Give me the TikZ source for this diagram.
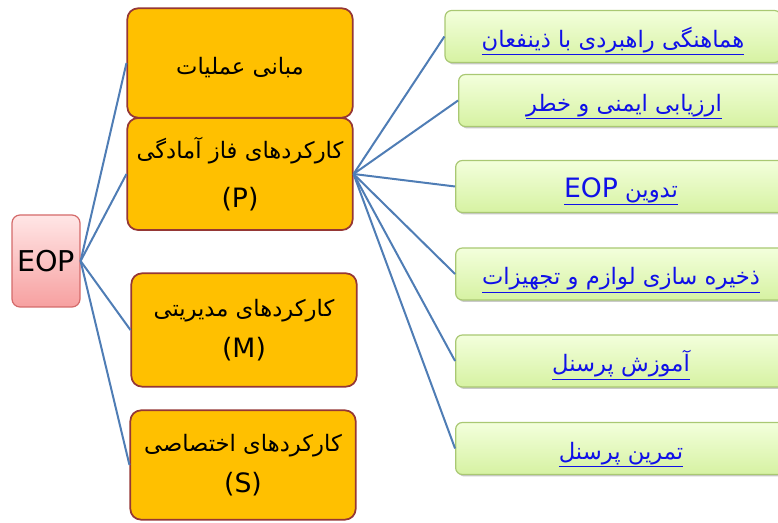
\documentclass[tikz,border=0pt]{standalone}
\usepackage{fontspec}
\setmainfont{DejaVu Sans}
\newfontfamily\fa[Script=Arabic]{DejaVu Sans}
\TeXXeTstate=1
\usetikzlibrary{shadows}
\definecolor{linkblue}{HTML}{4F7DB5}
\definecolor{orangefill}{HTML}{FFC000}
\definecolor{orangeedge}{HTML}{953735}
\definecolor{greenedge}{HTML}{A9C873}
\definecolor{greentop}{HTML}{F3FFDC}
\definecolor{greenbot}{HTML}{D6F2A2}
\definecolor{pinktop}{HTML}{FFE6E6}
\definecolor{pinkbot}{HTML}{F7A0A0}
\definecolor{pinkedge}{HTML}{D46A6A}
\definecolor{textblue}{HTML}{1010E8}
\newcommand{\rtltext}[1]{{\fa\beginR #1\endR}}
\newcommand{\ultext}[1]{\underline{\fa\beginR #1\endR}}
\newcommand{\latinbig}[1]{{\fontsize{20}{20}\selectfont #1}}
\tikzset{
  conn/.style={draw=linkblue, line width=1.5pt},
  rootbox/.style={draw=pinkedge, line width=0.9pt, rounded corners=6pt,
    top color=pinktop, bottom color=pinkbot, inner sep=0pt,
    minimum width=51pt, minimum height=69pt,
    font=\fontsize{21.5}{24}\selectfont, text=black},
  orangebox/.style={draw=orangeedge, line width=1.3pt, rounded corners=8pt,
    fill=orangefill, inner sep=0pt, minimum width=169pt, align=center, text=black},
  greenbox/.style={draw=greenedge, line width=0.9pt, rounded corners=5pt,
    top color=greentop, bottom color=greenbot, inner sep=0pt,
    minimum width=248pt, minimum height=39pt, text=textblue,
    text height=16pt, text depth=0pt,
    font=\fontsize{17}{20}\selectfont,
    drop shadow={shadow xshift=1.5pt, shadow yshift=-1.5pt, opacity=0.35, fill=black!60}},
}
\begin{document}
\begin{tikzpicture}[x=0.75pt, y=-0.75pt]
\useasboundingbox (0,0) rectangle (778,523);
\clip (0,0) rectangle (778,523);

\node[rootbox] (eop) at (46,261) {EOP};

\node[orangebox, minimum height=82pt, font=\fontsize{17}{20}\selectfont, text height=18pt, text depth=0pt] (base) at (240,63) {\rtltext{مبانی عملیات}};
\node[orangebox, minimum height=84pt, font=\fontsize{17}{37}\selectfont] (prep) at (240,174) {\rtltext{کارکردهای فاز آمادگی}\\\latinbig{(P)}};
\node[orangebox, minimum height=85pt, font=\fontsize{17}{31}\selectfont] (mgmt) at (244,330) {\rtltext{کارکردهای مدیریتی}\\\latinbig{(M)}};
\node[orangebox, minimum height=82pt, font=\fontsize{17}{30}\selectfont] (spec) at (243,465) {\rtltext{کارکردهای اختصاصی}\\[1pt]\latinbig{(S)}};

\node[greenbox, minimum width=252pt] (g1) at (613,36.5) {\ultext{هماهنگی راهبردی با ذینفعان}};
\node[greenbox] (g2) at (624,100.5) {\ultext{ارزیابی ایمنی و خطر}};
\node[greenbox] (g3) at (621,186.5) {\underline{\fa\beginR تدوین \beginL\latinbig{EOP}\endL\endR}};
\node[greenbox] (g4) at (621,274) {\ultext{ذخیره سازی لوازم و تجهیزات}};
\node[greenbox] (g5) at (621,361) {\ultext{آموزش پرسنل}};
\node[greenbox] (g6) at (621,448.5) {\ultext{تمرین پرسنل}};

\draw[conn] (eop.east) -- (base.west);
\draw[conn] (eop.east) -- (prep.west);
\draw[conn] (eop.east) -- (mgmt.west);
\draw[conn] (eop.east) -- (spec.west);
\foreach \g in {g1,g2,g3,g4,g5,g6}
  \draw[conn] (prep.east) -- (\g.west);
\end{tikzpicture}
\end{document}
